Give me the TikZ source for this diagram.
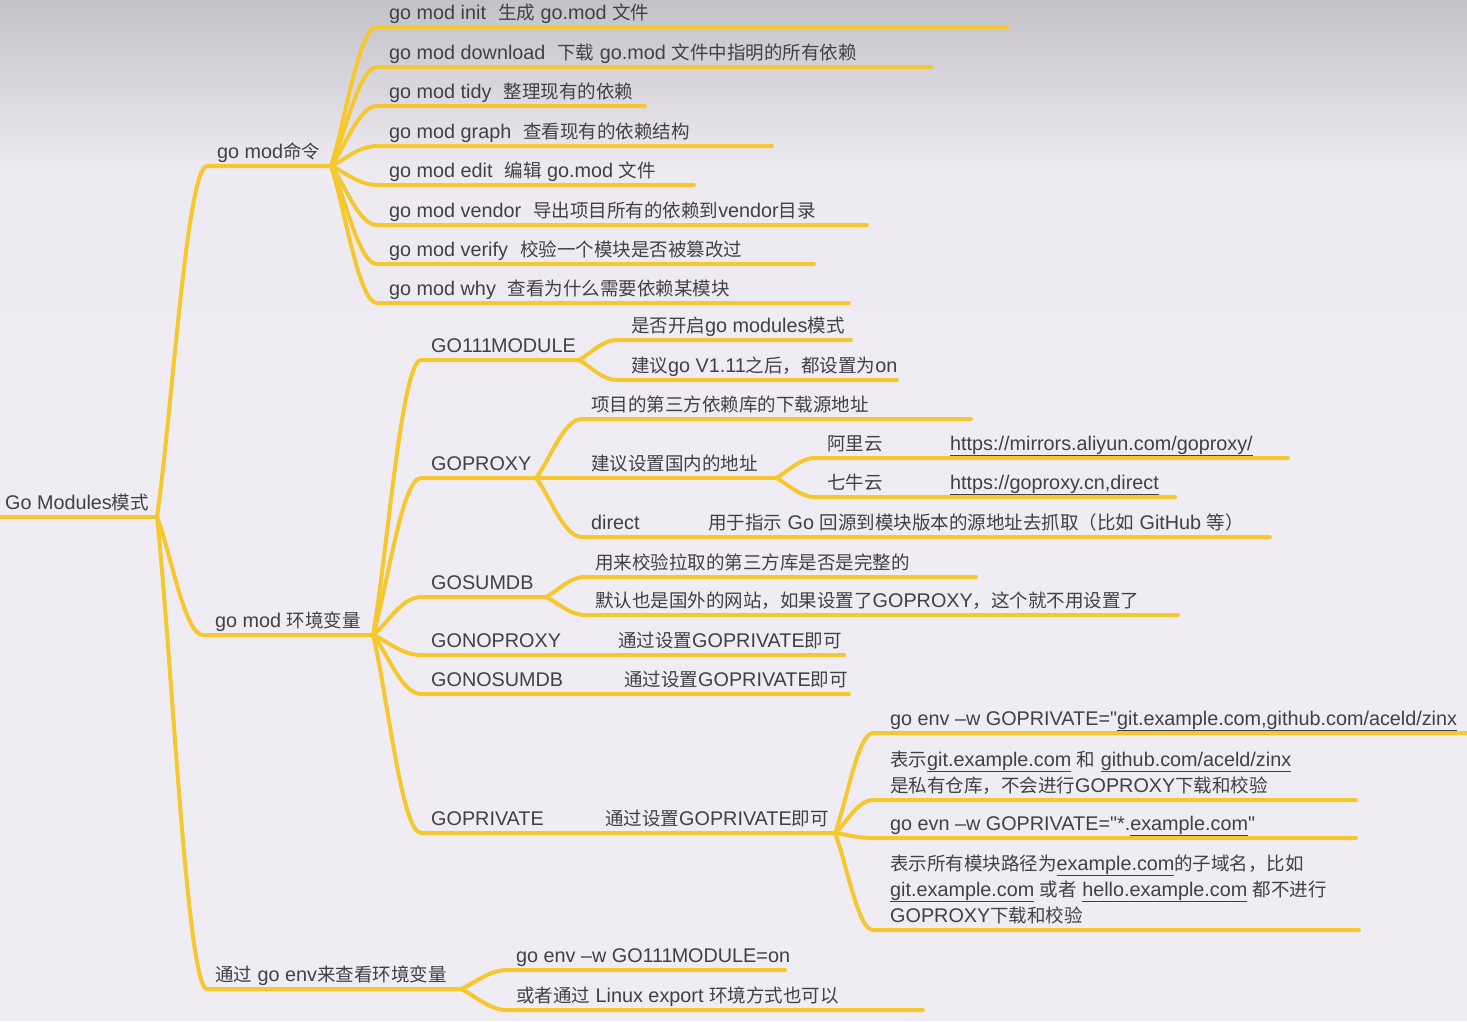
\documentclass[tikz,border=0pt]{standalone}
\usepackage{fontspec}
\setmainfont{Liberation Sans}[Scale=1.07,Ligatures=TeXOff]
\newfontfamily\cjkfont{Noto Sans CJK SC}
\usetikzlibrary{calc}
\XeTeXinterchartokenstate=1
\newXeTeXintercharclass\CJKcls
\makeatletter
\count@="4E00
\loop\XeTeXcharclass\count@=\CJKcls\advance\count@ by 1\relax\ifnum\count@<"A000 \repeat
\count@="3000
\loop\XeTeXcharclass\count@=\CJKcls\advance\count@ by 1\relax\ifnum\count@<"3040 \repeat
\count@="FF00
\loop\XeTeXcharclass\count@=\CJKcls\advance\count@ by 1\relax\ifnum\count@<"FFF0 \repeat
\makeatother
\XeTeXinterchartoks 0 \CJKcls={\begingroup\cjkfont}
\XeTeXinterchartoks 4095 \CJKcls={\begingroup\cjkfont}
\XeTeXinterchartoks \CJKcls 0={\endgroup}
\XeTeXinterchartoks \CJKcls 4095={\endgroup}
\definecolor{ylw}{RGB}{246,200,48}
\definecolor{txtc}{RGB}{64,64,70}
\definecolor{bgtop}{RGB}{196,194,201}
\definecolor{bgmid}{RGB}{237,235,241}
\definecolor{bgbot}{RGB}{239,236,244}
\newcommand\ulk[1]{\underline{#1}}
\newcommand\oneoneone{1\kern-1.5pt 1\kern-1.5pt 1\kern-1pt}
\newcommand\cn[5]{%
  \coordinate (#2-s) at (#3,#4);
  \coordinate (#2-e) at (#5,#4);
  \draw[yl] (#1) .. controls ($(#1)!0.3!(#2-s)$) and ($(#1 |- #2-s)!0.6!(#2-s)$) .. (#2-s) -- (#2-e);
}
\begin{document}
\begin{tikzpicture}[x=1pt,y=-1pt,
  yl/.style={draw=ylw,line width=4pt,line cap=round,line join=round},
  lbl/.style={font=\fontsize{18.5}{26}\selectfont,text=txtc,inner sep=0pt,anchor=base west,align=left}]
\useasboundingbox (0,0) rectangle (1467,1021);
\shade[top color=bgtop,bottom color=bgmid] (0,0) rectangle (1467,170);
\fill[bgmid] (0,170) rectangle (1467,311);
\fill[bgbot] (0,311) rectangle (1467,1021);
% root
\coordinate (R) at (157,517);
\coordinate (root-s) at (0,517);
\draw[yl] (root-s) -- (R);
\node[lbl] (root) at (5,509) {Go Modules模式};
% level 1
\cn{R}{A}{207}{166}{331}
\cn{R}{B}{203}{635}{373}
\cn{R}{C}{207}{989}{461}
\node[lbl] (nA) at (217,158) {go mod命令};
\node[lbl] (nB) at (215,627) {go mod 环境变量};
\node[lbl] (nC) at (215,981) {通过 go env来查看环境变量};
% go mod commands
\cn{A-e}{a1}{377}{27}{1008}
\cn{A-e}{a2}{377}{67}{931}
\cn{A-e}{a3}{377}{106}{645}
\cn{A-e}{a4}{377}{146}{772}
\cn{A-e}{a5}{377}{185}{694}
\cn{A-e}{a6}{377}{225}{867}
\cn{A-e}{a7}{377}{264}{814}
\cn{A-e}{a8}{377}{303}{849}
\node[lbl] (a1) at (389,19) {go mod init\hspace{12pt}生成 go.mod 文件};
\node[lbl] (a2) at (389,59) {go mod download\hspace{12pt}下载 go.mod 文件中指明的所有依赖};
\node[lbl] (a3) at (389,98) {go mod tidy\hspace{12pt}整理现有的依赖};
\node[lbl] (a4) at (389,138) {go mod graph\hspace{12pt}查看现有的依赖结构};
\node[lbl] (a5) at (389,177) {go mod edit\hspace{12pt}编辑 go.mod 文件};
\node[lbl] (a6) at (389,217) {go mod vendor\hspace{12pt}导出项目所有的依赖到vendor目录};
\node[lbl] (a7) at (389,256) {go mod verify\hspace{12pt}校验一个模块是否被篡改过};
\node[lbl] (a8) at (389,295) {go mod why\hspace{12pt}查看为什么需要依赖某模块};
% env vars
\cn{B-e}{b1}{421}{360}{579}
\cn{B-e}{b2}{421}{478}{536}
\cn{B-e}{b3}{421}{597}{546}
\cn{B-e}{b4}{421}{655}{844}
\cn{B-e}{b5}{421}{694}{849}
\cn{B-e}{b6}{421}{833}{835}
\node[lbl] (b1) at (431,352) {GO\oneoneone MODULE};
\node[lbl] (b2) at (431,470) {GOPROXY};
\node[lbl] (b3) at (431,589) {GOSUMDB};
\node[lbl] (b4) at (431,647) {GONOPROXY};
\node[lbl] (b4c) at (618,647) {通过设置GOPRIVATE即可};
\node[lbl] (b5) at (431,686) {GONOSUMDB};
\node[lbl] (b5c) at (624,686) {通过设置GOPRIVATE即可};
\node[lbl] (b6) at (431,825) {GOPRIVATE};
\node[lbl] (b6c) at (605,825) {通过设置GOPRIVATE即可};
% GO111MODULE
\cn{b1-e}{c1}{617}{340}{851}
\cn{b1-e}{c2}{617}{380}{897}
\node[lbl] (c1) at (631,332) {是否开启go modules模式};
\node[lbl] (c2) at (631,372) {建议go V1.11之后，都设置为on};
% GOPROXY
\cn{b2-e}{d1}{582}{419}{971}
\cn{b2-e}{d2}{582}{478}{776}
\cn{b2-e}{d3}{582}{537}{1270}
\node[lbl] (d1) at (591,411) {项目的第三方依赖库的下载源地址};
\node[lbl] (d2) at (591,470) {建议设置国内的地址};
\node[lbl] (d3) at (591,529) {direct};
\node[lbl] (d3c) at (708,529) {用于指示 Go 回源到模块版本的源地址去抓取（比如 GitHub 等）};
\cn{d2-e}{e1}{815}{458}{1288}
\cn{d2-e}{e2}{815}{497}{1175}
\node[lbl] (e1) at (827,450) {阿里云};
\node[lbl] (e1c) at (950,450) {\ulk{https://mirrors.aliyun.com/goproxy/}};
\node[lbl] (e2) at (827,489) {七牛云};
\node[lbl] (e2c) at (950,489) {\ulk{https://goproxy.cn,direct}};
% GOSUMDB
\cn{b3-e}{f1}{585}{577}{976}
\cn{b3-e}{f2}{585}{615}{1178}
\node[lbl] (f1) at (595,569) {用来校验拉取的第三方库是否是完整的};
\node[lbl] (f2) at (595,607) {默认也是国外的网站，如果设置了GOPROXY，这个就不用设置了};
% GOPRIVATE
\cn{b6-e}{g1}{873}{733}{1467}
\cn{b6-e}{g2}{873}{800}{1356}
\cn{b6-e}{g3}{873}{838}{1356}
\cn{b6-e}{g4}{873}{930}{1359}
\node[lbl] (g1) at (890,725) {go env –w GOPRIVATE="\ulk{git.example.com,github.com/aceld/zinx}};
\node[lbl] (g2) at (890,792) {表示\ulk{git.example.com} 和 \ulk{github.com/aceld/zinx}\\是私有仓库，不会进行GOPROXY下载和校验};
\node[lbl] (g3) at (890,830) {go evn –w GOPRIVATE="*.\ulk{example.com}"};
\node[lbl] (g4) at (890,922) {表示所有模块路径为\ulk{example.com}的子域名，比如\\\ulk{git.example.com} 或者 \ulk{hello.example.com} 都不进行\\GOPROXY下载和校验};
% go env
\cn{C-e}{h1}{507}{970}{785}
\cn{C-e}{h2}{507}{1010}{923}
\node[lbl] (h1) at (516,962) {go env –w GO\oneoneone MODULE=on};
\node[lbl] (h2) at (516,1002) {或者通过 Linux export 环境方式也可以};
\end{tikzpicture}
\end{document}
